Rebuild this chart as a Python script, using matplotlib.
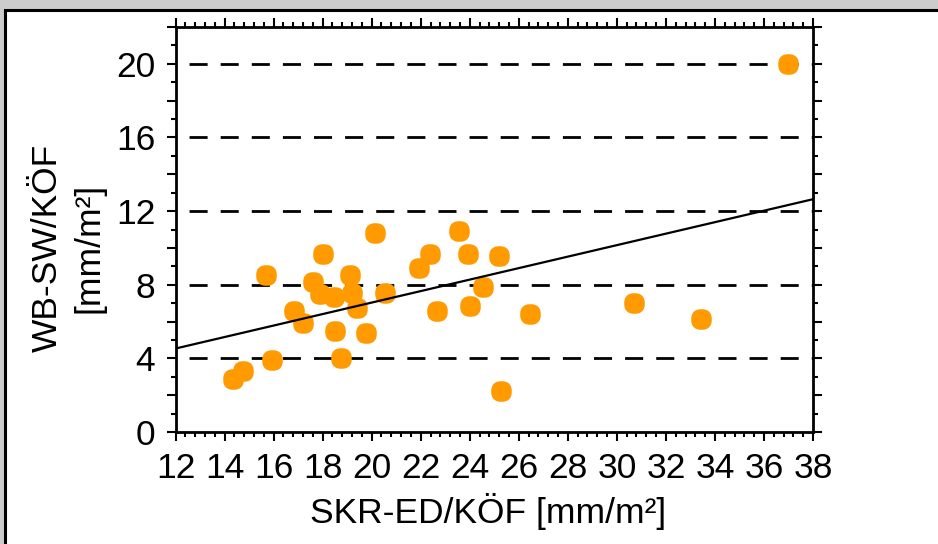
import numpy as np
import matplotlib
matplotlib.use('Agg')
import matplotlib.pyplot as plt
from matplotlib.patches import Rectangle
from matplotlib.path import Path
from matplotlib.ticker import MultipleLocator, FuncFormatter

plt.rcParams['font.family'] = ['Liberation Sans', 'DejaVu Sans']
plt.rcParams['lines.scale_dashes'] = False

# values
skr_ed = [36.98, 14.35, 14.75, 15.94, 15.69, 16.83, 17.20, 17.61, 18.02, 17.90,
          18.47, 18.50, 18.75, 19.12, 19.20, 19.40, 19.77, 20.14, 20.54, 21.93,
          22.38, 22.66, 23.56, 23.93, 24.01, 24.54, 25.19, 25.27, 26.46, 30.70,
          33.43]
wb_sw = [20.00, 2.88, 3.31, 3.91, 8.52, 6.57, 5.92, 8.14, 9.66, 7.49,
         7.33, 5.48, 4.02, 8.52, 7.55, 6.73, 5.37, 10.80, 7.55, 8.90,
         9.66, 6.57, 10.90, 9.66, 6.84, 7.87, 9.55, 2.23, 6.40, 7.00,
         6.13]
fit_slope = 0.312
fit_intercept = 0.79

x_ticks = list(range(12, 39, 2))
y_label_ticks = [0, 4, 8, 12, 16, 20]
grid_levels = [4, 8, 12, 16, 20]

orange = '#FF9A00'

# rounded marker, a bit squarish like the original
t = np.linspace(0, 2 * np.pi, 90)
n = 2.4
mx = np.sign(np.cos(t)) * np.abs(np.cos(t)) ** (2 / n)
my = np.sign(np.sin(t)) * np.abs(np.sin(t)) ** (2 / n)
blob = Path(np.column_stack([mx, my]))

fig = plt.figure(figsize=(9.38, 5.44), dpi=100)
fig.patch.set_facecolor('#CCCCCC')
fig.add_artist(Rectangle((4.5 / 938, -0.1), 1.2, 1.1 - 9.5 / 544,
                         transform=fig.transFigure, facecolor='white',
                         edgecolor='black', linewidth=2.2, zorder=-1))

ax = fig.add_axes([175.5 / 938, 1 - 432 / 544, (813 - 175.5) / 938, (432 - 27) / 544])

for lvl in grid_levels:
    ax.axhline(lvl, color='black', linewidth=2.0, linestyle=(13, (13, 9.4)), zorder=1)

ax.plot(skr_ed, wb_sw, linestyle='none', marker=blob, markersize=14.8,
        color=orange, markeredgewidth=0, zorder=2)

xs = np.array([12, 38])
ax.plot(xs, fit_intercept + fit_slope * xs, color='black', linewidth=1.6, zorder=3)

ax.set_xlim(12, 38)
ax.set_ylim(0, 22)
ax.set_xticks(x_ticks)
ax.xaxis.set_minor_locator(MultipleLocator(0.4))
ax.yaxis.set_major_locator(MultipleLocator(2))
ax.yaxis.set_minor_locator(MultipleLocator(1))
ax.yaxis.set_major_formatter(FuncFormatter(
    lambda v, p: f'{int(round(v))}' if int(round(v)) in y_label_ticks else ''))

for s in ax.spines.values():
    s.set_linewidth(2.0)

ax.tick_params(which='major', direction='out', length=6.5, width=1.5,
               top=True, right=True, labelsize=25.5, pad=8, colors='black')
ax.tick_params(which='minor', direction='out', length=3.6, width=1.5,
               top=True, right=True)
ax.tick_params(axis='x', which='major', pad=8)

fig.text(0.5 * (312 + 665) / 938, 1 - 512 / 544, 'SKR-ED/KÖF [mm/m²]',
         ha='center', va='center', fontsize=25.5)
fig.text(68 / 938, 1 - 248 / 544, 'WB-SW/KÖF\n[mm/m²]', rotation=90,
         ha='center', va='center', multialignment='center', fontsize=25.5,
         linespacing=1.35)

fig.savefig('out.png', dpi=100, facecolor=fig.get_facecolor())
